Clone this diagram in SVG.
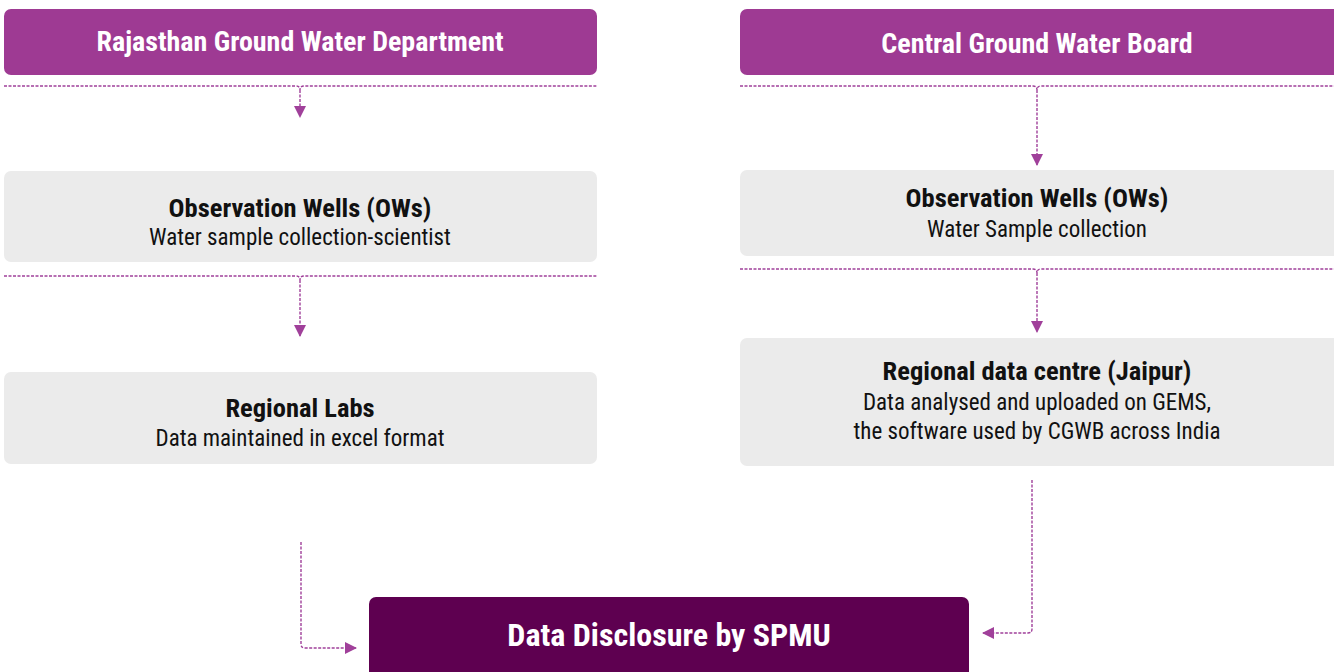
<svg xmlns="http://www.w3.org/2000/svg" width="1334" height="672" viewBox="0 0 1334 672">
<defs>
<style>
.hdr{fill:#9E3A93}
.box{fill:#EBEBEB}
.fin{fill:#5E0050}
.ht{font-family:"Liberation Sans Narrow","Roboto Condensed","Liberation Sans",sans-serif;font-weight:bold;font-size:28px;fill:#fff;text-anchor:middle}
.bt{font-family:"Liberation Sans Narrow","Roboto Condensed","Liberation Sans",sans-serif;font-weight:bold;font-size:26.5px;fill:#111;text-anchor:middle}
.st{font-family:"Liberation Sans Narrow","Roboto Condensed","Liberation Sans",sans-serif;font-size:23px;fill:#111;text-anchor:middle}
.ft{font-family:"Liberation Sans Narrow","Roboto Condensed","Liberation Sans",sans-serif;font-weight:bold;font-size:32px;fill:#fff;text-anchor:middle}
.dl{fill:none;stroke:#A0409A;stroke-width:1.4;stroke-dasharray:3 1.5}
</style>
<marker id="ah" viewBox="0 0 12 12" refX="11" refY="6" markerWidth="12" markerHeight="12" markerUnits="userSpaceOnUse" orient="auto">
<path d="M0,0 L12,6 L0,12 Z" fill="#A0409A"/>
</marker>
</defs>
<g id="rgwd"><rect class="hdr" x="4" y="9" width="593" height="66" rx="7"/><text class="ht" x="300" y="51">Rajasthan Ground Water Department</text></g>
<g id="cgwb"><rect class="hdr" x="740" y="9" width="600" height="66" rx="7"/><text class="ht" x="1037" y="53">Central Ground Water Board</text></g>
<g id="ow-left"><rect class="box" x="4" y="171" width="593" height="91" rx="7"/><text class="bt" x="300" y="217">Observation Wells (OWs)</text><text class="st" x="300" y="245">Water sample collection-scientist</text></g>
<g id="labs"><rect class="box" x="4" y="372" width="593" height="92" rx="7"/><text class="bt" x="300" y="417">Regional Labs</text><text class="st" x="300" y="446">Data maintained in excel format</text></g>
<g id="ow-right"><rect class="box" x="740" y="170" width="600" height="86" rx="7"/><text class="bt" x="1037" y="207">Observation Wells (OWs)</text><text class="st" x="1037" y="237">Water Sample collection</text></g>
<g id="rdc"><rect class="box" x="740" y="338" width="600" height="128" rx="7"/><text class="bt" x="1037" y="380">Regional data centre (Jaipur)</text><text class="st" x="1037" y="410">Data analysed and uploaded on GEMS,</text><text class="st" x="1037" y="439">the software used by CGWB across India</text></g>
<g id="spmu"><rect class="fin" x="369" y="597" width="600" height="90" rx="7"/><text class="ft" x="669" y="646">Data Disclosure by SPMU</text></g>
<g id="connectors">
<path class="dl" d="M4,86 H296 Q300,86 300,90 Q300,86 304,86 H597"/>
<path class="dl" d="M300,90 V117" marker-end="url(#ah)"/>
<path class="dl" d="M740,86 H1033 Q1037,86 1037,90 Q1037,86 1041,86 H1334"/>
<path class="dl" d="M1037,90 V165" marker-end="url(#ah)"/>
<path class="dl" d="M4,276 H296 Q300,276 300,280 Q300,276 304,276 H597"/>
<path class="dl" d="M300,280 V336" marker-end="url(#ah)"/>
<path class="dl" d="M740,269 H1033 Q1037,269 1037,273 Q1037,269 1041,269 H1334"/>
<path class="dl" d="M1037,273 V332" marker-end="url(#ah)"/>
<path class="dl" d="M301,542 V644 Q301,648 305,648 H356" marker-end="url(#ah)"/>
<path class="dl" d="M1032,480 V629 Q1032,633 1028,633 H983" marker-end="url(#ah)"/>
</g>
</svg>
